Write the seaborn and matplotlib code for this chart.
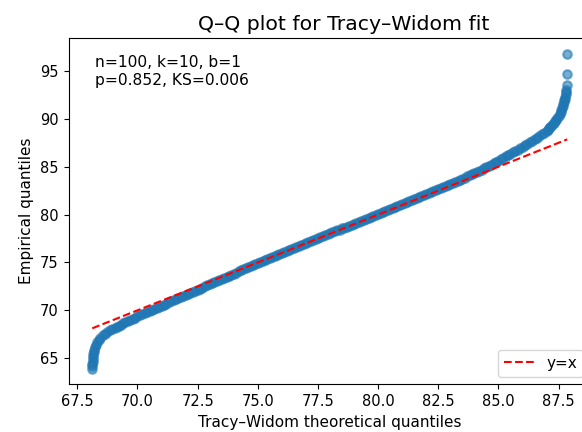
import matplotlib
matplotlib.use("Agg")
import matplotlib.pyplot as plt
import seaborn as sns
import pandas as pd

# Tracy-Widom theoretical quantiles (x) against sorted empirical values (y)
theoretical = [
    68.12, 68.12, 68.13, 68.14, 68.15, 68.16, 68.17, 68.19, 68.21, 68.24,
    68.28, 68.33, 68.39, 68.46, 68.55, 68.65, 68.75, 68.85, 68.95, 69.05,
    69.15, 69.25,
    69.3, 69.4, 69.5, 69.6, 69.7, 69.8, 69.9, 70.0,
    70.1, 70.2, 70.3, 70.4, 70.5, 70.6, 70.7, 70.8, 70.9, 71.0,
    71.1, 71.2, 71.3, 71.4, 71.5, 71.6, 71.7, 71.8, 71.9, 72.0,
    72.1, 72.2, 72.3, 72.4, 72.5, 72.6, 72.7, 72.8, 72.9, 73.0,
    73.1, 73.2, 73.3, 73.4, 73.5, 73.6, 73.7, 73.8, 73.9, 74.0,
    74.1, 74.2, 74.3, 74.4, 74.5, 74.6, 74.7, 74.8, 74.9, 75.0,
    75.1, 75.2, 75.3, 75.4, 75.5, 75.6, 75.7, 75.8, 75.9, 76.0,
    76.1, 76.2, 76.3, 76.4, 76.5, 76.6, 76.7, 76.8, 76.9, 77.0,
    77.1, 77.2, 77.3, 77.4, 77.5, 77.6, 77.7, 77.8, 77.9, 78.0,
    78.1, 78.2, 78.3, 78.4, 78.5, 78.6, 78.7, 78.8, 78.9, 79.0,
    79.1, 79.2, 79.3, 79.4, 79.5, 79.6, 79.7, 79.8, 79.9, 80.0,
    80.1, 80.2, 80.3, 80.4, 80.5, 80.6, 80.7, 80.8, 80.9, 81.0,
    81.1, 81.2, 81.3, 81.4, 81.5, 81.6, 81.7, 81.8, 81.9, 82.0,
    82.1, 82.2, 82.3, 82.4, 82.5, 82.6, 82.7, 82.8, 82.9, 83.0,
    83.1, 83.2, 83.3, 83.4, 83.5, 83.6, 83.7, 83.8, 83.9, 84.0,
    84.1, 84.2, 84.3, 84.4, 84.5, 84.6, 84.7, 84.8, 84.9, 85.0,
    85.1, 85.2, 85.3, 85.4, 85.5, 85.6, 85.7, 85.8, 85.9, 86.0,
    86.1, 86.2, 86.3, 86.4, 86.5, 86.6, 86.7, 86.8, 86.9, 87.0,
    87.05, 87.1, 87.15, 87.2, 87.25, 87.3, 87.35, 87.4, 87.45, 87.5,
    87.54, 87.58, 87.61, 87.64, 87.67, 87.7, 87.72, 87.74, 87.76, 87.78,
    87.8, 87.81, 87.82, 87.83, 87.85, 87.86,
]
empirical = [
    63.90, 64.15, 64.40, 64.65, 64.90, 65.15, 65.40, 65.65, 65.90, 66.15,
    66.40, 66.65, 66.90, 67.15, 67.38, 67.58, 67.75, 67.90, 68.03, 68.16,
    68.28, 68.40,
    68.50, 68.63, 68.76, 68.88, 69.00, 69.12, 69.24, 69.36,
    69.47, 69.58, 69.70, 69.81, 69.92, 70.03, 70.14, 70.26, 70.37, 70.48,
    70.59, 70.70, 70.82, 70.93, 71.04, 71.15, 71.26, 71.38, 71.49, 71.60,
    71.71, 71.82, 71.94, 72.05, 72.16, 72.27, 72.38, 72.50, 72.61, 72.72,
    72.83, 72.94, 73.06, 73.17, 73.28, 73.39, 73.50, 73.62, 73.73, 73.84,
    73.95, 74.06, 74.18, 74.29, 74.40, 74.51, 74.62, 74.74, 74.85, 74.96,
    75.06, 75.17, 75.27, 75.37, 75.48, 75.58, 75.68, 75.78, 75.89, 75.99,
    76.09, 76.19, 76.30, 76.40, 76.50, 76.60, 76.71, 76.81, 76.91, 77.01,
    77.11, 77.22, 77.32, 77.42, 77.52, 77.62, 77.73, 77.83, 77.93, 78.03,
    78.14, 78.24, 78.34, 78.44, 78.55, 78.65, 78.75, 78.85, 78.95, 79.06,
    79.16, 79.26, 79.36, 79.47, 79.57, 79.67, 79.77, 79.87, 79.98, 80.08,
    80.18, 80.28, 80.39, 80.49, 80.59, 80.69, 80.79, 80.90, 81.00, 81.10,
    81.20, 81.31, 81.41, 81.51, 81.61, 81.71, 81.81, 81.92, 82.02, 82.12,
    82.23, 82.33, 82.44, 82.54, 82.65, 82.76, 82.87, 82.97, 83.08, 83.19,
    83.30, 83.41, 83.53, 83.64, 83.75, 83.87, 83.98, 84.10, 84.21, 84.33,
    84.46, 84.58, 84.71, 84.84, 84.97, 85.10, 85.23, 85.37, 85.51, 85.65,
    85.79, 85.93, 86.07, 86.21, 86.36, 86.50, 86.65, 86.79, 86.94, 87.09,
    87.24, 87.39, 87.55, 87.71, 87.87, 88.04, 88.21, 88.39, 88.57, 88.75,
    88.87, 89.00, 89.13, 89.27, 89.42, 89.58, 89.75, 89.93, 90.12, 90.32,
    90.52, 90.72, 90.92, 91.12, 91.32, 91.52, 91.72, 91.92, 92.12, 92.32,
    92.55, 92.80, 93.05, 93.50, 94.70, 96.80,
]

stats_text = "n=100, k=10, b=1\np=0.852, KS=0.006"

df = pd.DataFrame({"theoretical": theoretical, "empirical": empirical})

plt.rcParams.update({
    "xtick.labelsize": 10.5,
    "ytick.labelsize": 10.5,
    "axes.labelsize": 11,
    "legend.fontsize": 11,
})

fig = plt.figure(figsize=(5.82, 4.32), dpi=100)
ax = fig.add_axes([0.1177, 0.110, 0.8978, 0.802])

sns.scatterplot(data=df, x="theoretical", y="empirical", ax=ax,
                s=38, color="#1f77b4", alpha=0.6,
                edgecolor="face", linewidth=1.5)

lo, hi = min(theoretical), max(theoretical)
ax.plot([lo, hi], [lo, hi], "r--", linewidth=1.5, label="y=x")

ax.set_title("Q–Q plot for Tracy–Widom fit", fontsize=14.7, x=0.527)
ax.set_xlabel("Tracy–Widom theoretical quantiles")
ax.set_ylabel("Empirical quantiles")
ax.text(0.05, 0.95, stats_text, transform=ax.transAxes, va="top", ha="left",
        fontsize=11.2)
ax.legend(loc="lower right")

fig.savefig("out.png", dpi=100)
